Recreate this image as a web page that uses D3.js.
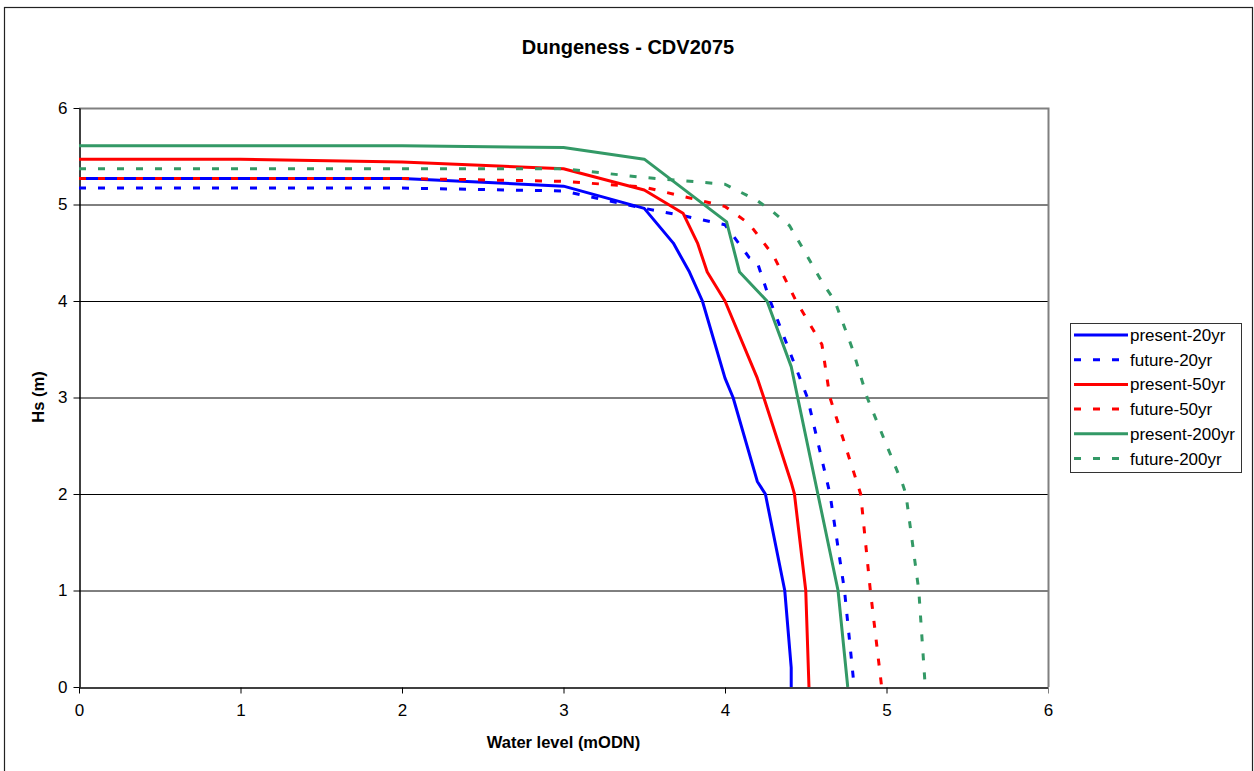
<!DOCTYPE html>
<html>
<head>
<meta charset="utf-8">
<script src="https://cdn.jsdelivr.net/npm/d3@7"></script>
<style>
  body { margin: 0; background: #fff; }
  text { font-family: "Liberation Sans", Arial, sans-serif; }
</style>
</head>
<body>
<svg id="chart"></svg>
<script>
// series: [water level, Hs]
let present20 = [[0,5.27],[1,5.27],[2,5.27],[3,5.19],[3.5,4.96],[3.68,4.6],[3.78,4.3],[3.86,4.0],[4.0,3.2],[4.05,3.0],[4.2,2.13],[4.25,2.0],[4.37,1.0],[4.41,0.2],[4.41,0]];
let future20 = [[0,5.17],[1,5.17],[2,5.17],[3,5.14],[3.5,4.96],[3.75,4.88],[4.0,4.79],[4.15,4.45],[4.2,4.4],[4.28,4.0],[4.51,3.0],[4.65,2.0],[4.74,1.0],[4.8,0]];
let present50 = [[0,5.47],[1,5.47],[2,5.44],[3,5.37],[3.5,5.15],[3.74,4.91],[3.83,4.6],[3.89,4.3],[4.0,4.0],[4.2,3.2],[4.24,3.0],[4.41,2.12],[4.43,2.0],[4.5,1.0],[4.52,0]];
let future50 = [[0,5.27],[1,5.27],[2,5.27],[3,5.24],[3.5,5.18],[4.0,4.98],[4.15,4.8],[4.3,4.47],[4.44,4.0],[4.6,3.55],[4.65,3.0],[4.84,2.0],[4.9,1.0],[4.97,0]];
let present200 = [[0,5.61],[1,5.61],[2,5.61],[3,5.59],[3.5,5.47],[4.01,4.82],[4.09,4.3],[4.26,4.0],[4.41,3.32],[4.45,3.0],[4.7,1.0],[4.76,0]];
let future200 = [[0,5.37],[1,5.37],[2,5.37],[3,5.37],[3.5,5.28],[4.0,5.21],[4.2,5.04],[4.3,4.92],[4.4,4.78],[4.48,4.55],[4.6,4.2],[4.68,4.0],[4.79,3.5],[4.88,3.0],[5.1,2.1],[5.12,2.0],[5.2,1.0],[5.24,0]];

let seriesNames = ["present-20yr", "future-20yr", "present-50yr", "future-50yr", "present-200yr", "future-200yr"];
let xTicks = [0, 1, 2, 3, 4, 5, 6];
let yTicks = [0, 1, 2, 3, 4, 5, 6];

let width = 1254, height = 771;
let svg = d3.select("#chart").attr("width", width).attr("height", height);

let series = [
    {name: seriesNames[0], values: present20, color: "#0000ff", dashed: false},
    {name: seriesNames[1], values: future20, color: "#0000ff", dashed: true},
    {name: seriesNames[2], values: present50, color: "#ff0000", dashed: false},
    {name: seriesNames[3], values: future50, color: "#ff0000", dashed: true},
    {name: seriesNames[4], values: present200, color: "#339966", dashed: false},
    {name: seriesNames[5], values: future200, color: "#339966", dashed: true}
];

// outer chart frame
svg.append("rect")
    .attr("x", 4.5).attr("y", 7.5)
    .attr("width", 1248).attr("height", 780)
    .attr("fill", "none").attr("stroke", "#222").attr("stroke-width", 1.2);

let plotLeft = 79, plotRight = 1048, plotTop = 108, plotBottom = 687;

let x = d3.scaleLinear().domain([0, 6]).range([plotLeft, plotRight]);
let y = d3.scaleLinear().domain([0, 6]).range([plotBottom, plotTop]);

// gridlines
svg.append("g")
    .selectAll("line")
    .data(yTicks.filter(d => d > 0 && d < 6))
    .enter().append("line")
    .attr("x1", plotLeft).attr("x2", plotRight)
    .attr("y1", d => y(d) + 0.5).attr("y2", d => y(d) + 0.5)
    .attr("stroke", "#000").attr("stroke-width", 1);

// plot frame top and right
svg.append("path")
    .attr("d", `M${plotLeft},${plotTop + 0.5}H${plotRight + 0.5}V${plotBottom}`)
    .attr("fill", "none").attr("stroke", "#808080").attr("stroke-width", 2);

// axes
let xAxis = svg.append("g")
    .attr("transform", `translate(0,${plotBottom + 0.5})`)
    .call(d3.axisBottom(x).tickValues(xTicks).tickFormat(d3.format("d"))
        .tickSize(6).tickPadding(10).tickSizeOuter(0));
let yAxis = svg.append("g")
    .attr("transform", `translate(${plotLeft + 0.5},0)`)
    .call(d3.axisLeft(y).tickValues(yTicks).tickFormat(d3.format("d"))
        .tickSize(6).tickPadding(6).tickSizeOuter(0));

[xAxis, yAxis].forEach(a => {
    a.select(".domain").attr("stroke", "#000").attr("stroke-width", 1.5);
    a.selectAll(".tick line").attr("stroke", "#000");
    a.selectAll("text").attr("font-size", 17).attr("fill", "#000")
        .style("font-family", "'Liberation Sans', Arial, sans-serif");
});
xAxis.select(".tick:last-child line").attr("stroke", "#808080");

// lines
let line = d3.line().x(d => x(d[0])).y(d => y(d[1]));

svg.append("g")
    .selectAll("path")
    .data(series)
    .enter().append("path")
    .attr("d", d => line(d.values))
    .attr("fill", "none")
    .attr("stroke", d => d.color)
    .attr("stroke-width", 3)
    .attr("stroke-linejoin", "round")
    .attr("stroke-dasharray", d => d.dashed ? "7,12" : null);

// title and axis titles
svg.append("text")
    .attr("x", 628).attr("y", 54)
    .attr("text-anchor", "middle")
    .attr("font-size", 20).attr("font-weight", "bold")
    .text("Dungeness - CDV2075");

svg.append("text")
    .attr("x", (plotLeft + plotRight) / 2).attr("y", 748)
    .attr("text-anchor", "middle")
    .attr("font-size", 16.5).attr("font-weight", "bold")
    .text("Water level (mODN)");

svg.append("text")
    .attr("transform", "translate(44,397) rotate(-90)")
    .attr("text-anchor", "middle")
    .attr("font-size", 16.5).attr("font-weight", "bold")
    .text("Hs (m)");

// legend
let legend = svg.append("g");
legend.append("rect")
    .attr("x", 1070.5).attr("y", 323.5)
    .attr("width", 171).attr("height", 149)
    .attr("fill", "#fff").attr("stroke", "#333").attr("stroke-width", 1);

let item = legend.selectAll(".item")
    .data(series)
    .enter().append("g")
    .attr("transform", (d, i) => `translate(0,${335 + i * 24.7})`);

item.append("line")
    .attr("x1", 1074).attr("x2", d => d.dashed ? 1125 : 1128)
    .attr("stroke", d => d.color)
    .attr("stroke-width", 3)
    .attr("stroke-dasharray", d => d.dashed ? "7,12" : null);

item.append("text")
    .attr("x", 1130).attr("y", 6)
    .attr("font-size", 17)
    .text(d => d.name);
</script>
</body>
</html>
